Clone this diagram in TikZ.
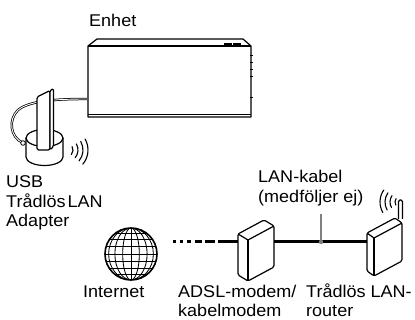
\documentclass[tikz,border=0pt]{standalone}
\usepackage{fontspec}
\setmainfont[FakeStretch=1.06]{Liberation Sans}
\begin{document}
\begin{tikzpicture}[x=1pt,y=-1pt,
  lbl/.style={anchor=base west, inner sep=0pt, font=\fontsize{17}{19}\selectfont},
  outline/.style={line width=1.2pt, line join=round},
  fine/.style={line width=0.85pt},
  lan/.style={line width=3pt},
  wave/.style={line width=1.1pt, line cap=round},
  tube/.style={line width=2.4pt},
  tubeinner/.style={line width=0.9pt, white}]
\useasboundingbox (0,0) rectangle (415,320);

% --- the unit ---
\coordinate (unitPort) at (88,99);
\draw[outline] (88,117) -- (88,46) -- (97,39) -- (243,39) -- (251,46) -- (251,117) -- cycle;
\draw[outline] (88,46) -- (251,46);
\draw[line width=0.8pt] (88,114) -- (251,114);
\draw[line width=1.6pt] (224,44) -- (231.5,44) (233,44) -- (241,44);
\foreach \y in {55,62,69,76,97} \draw[line width=0.9pt] (250,\y) -- (252.5,\y);

% --- USB wireless adapter with its cable ---
\coordinate (ring) at (23,143);
\draw[tube] (unitPort) .. controls (60,99) and (30,100) .. (18,110) .. controls (8,120) and (10,137) .. (ring);
\draw[tubeinner] (unitPort) .. controls (60,99) and (30,100) .. (18,110) .. controls (8,120) and (10,137) .. (ring);
% base cylinder
\filldraw[fill=white, outline] (26,138) -- (26,157) arc[start angle=180, end angle=0, x radius=18.5, y radius=8.5] -- (63,138);
\filldraw[fill=white, outline] (44.5,138) ellipse[x radius=18.5, y radius=8.5];
\filldraw[fill=white, line width=0.8pt] (ring) circle[radius=2.3];
% stick
\filldraw[fill=white, outline, rounded corners=1.5pt] (37,150) -- (37,97) -- (50,90.5) -- (50,150) -- cycle;
\filldraw[fill=white, outline, rounded corners=1.5pt] (50,90.5) -- (53.5,88.5) -- (53.5,146.5) -- (50,150) -- cycle;
% radio waves
\foreach \r in {7,12,17,22}
  \draw[wave] ([shift={(40:\r)}]66,150) arc[start angle=40, end angle=-30, radius=\r];

% --- internet globe ---
\coordinate (globe) at (131,254);
\begin{scope}
  \clip (globe) circle[radius=26];
  \foreach \k in {0.32,0.62,0.86}
    \draw[fine] (globe) ellipse[x radius=26*\k, y radius=26];
  \draw[fine] ([yshift=-26pt]globe) -- ([yshift=26pt]globe);
  \foreach \d in {-20.5,-14.5,-7.5,0,7.5,14.5,20.5}
    \draw[fine] ([shift={(-30,\d)}]globe) -- ([shift={(30,\d)}]globe);
\end{scope}
\draw[line width=1.6pt] (globe) circle[radius=26];

% --- modem ---
\coordinate (modemL) at (238,242);
\coordinate (modemR) at (274,242);
\filldraw[fill=white, outline, rounded corners=1.5pt]
  (238,234) -- (264,220) -- (274,226) -- (274,267) -- (248,281) -- (238,275) -- cycle;
\draw[outline] (238,234) -- (248,240) -- (274,226);
\draw[outline] (248,240) -- (248,280);

% --- wireless router ---
\coordinate (routerL) at (367,242);
\filldraw[fill=white, rounded corners=1.5pt, line width=1.1pt] (398.5,219) -- (398.5,200) -- (402.5,200) -- (402.5,219);
\filldraw[fill=white, outline, rounded corners=1.5pt]
  (367,233) -- (395,218) -- (402,223) -- (402,261) -- (374,276) -- (367,271) -- cycle;
\draw[outline] (367,233) -- (374,238) -- (402,223);
\draw[outline] (374,238) -- (374,275);
\foreach \r in {6,11,16,21}
  \draw[wave] ([shift={(-145:\r)}]401,202) arc[start angle=-145, end angle=-210, radius=\r];

% --- cabling ---
\draw[lan, dash pattern=on 3pt off 4pt on 3pt off 4pt on 4pt off 3.5pt on 7pt off 3.5pt on 10pt off 3pt on 30pt]
  (173,242) -- (modemL);
\draw[lan] (modemR) -- (routerL);
\coordinate (tap) at (321,242);
\coordinate (tapTop) at (321,214);
\draw[gray, line width=2pt] (tapTop) -- (tap);
\fill[gray] (tap) circle[radius=2.2];

% --- labels ---
\node[lbl] (enhet) at (89,27) {Enhet};
\node[lbl] (usb1) at (6,188) {USB};
\node[lbl] (usb2) at (6,207.5) {Trådlös\hspace{2pt}LAN};
\node[lbl] (usb3) at (6,227) {Adapter};
\node[lbl] (lan1) at (258,183) {LAN-kabel};
\node[lbl] (lan2) at (258,203) {(medföljer ej)};
\node[lbl] (inet) at (83,298) {Internet};
\node[lbl] (adsl1) at (178,298) {ADSL-modem/};
\node[lbl] (adsl2) at (178,317) {kabelmodem};
\node[lbl] (rt1) at (306,298) {Trådlös LAN-};
\node[lbl] (rt2) at (306,317) {router};
\end{tikzpicture}
\end{document}
